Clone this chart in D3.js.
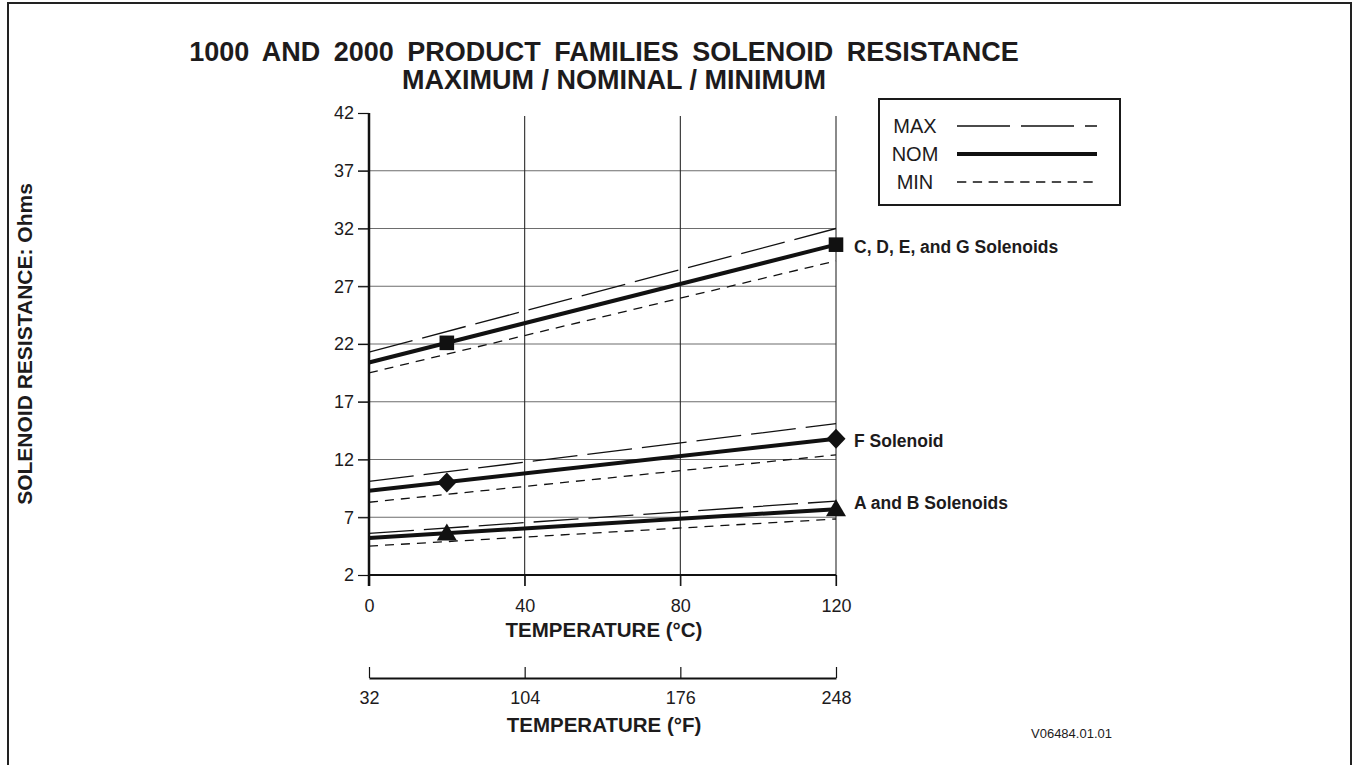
<!DOCTYPE html>
<html>
<head>
<meta charset="utf-8">
<title>Solenoid Resistance</title>
<style>
  body { margin: 0; background: #fff; }
  svg text { font-family: "Liberation Sans", Arial, Helvetica, sans-serif; fill: #1d1b1c; }
  .title { font-size: 27px; font-weight: bold; }
  .axis-title { font-size: 20.5px; font-weight: bold; }
  .fam-label { font-size: 17.5px; font-weight: bold; }
  .legend text { font-size: 20px; }
  .grid-h line { stroke: #6d6d6d; stroke-width: 1.2; }
  .grid-v line { stroke: #2a2a2a; stroke-width: 1.1; }
</style>
</head>
<body>
<script src="https://d3js.org/d3.v7.min.js"></script>
<script>
// temperatures (deg C) at which the straight lines start / end
const tempC = [0, 120];
const markerTemps = [20, 120];
const families = ["C, D, E, and G Solenoids", "F Solenoid", "A and B Solenoids"];
const markerShapes = ["square", "diamond", "triangle"];

// resistance in ohms at 0 C and 120 C
const maxVals = [[21.3, 32.0], [10.1, 15.1], [5.6, 8.4]];
const nomVals = [[20.4, 30.6], [9.3, 13.8], [5.2, 7.7]];
const minVals = [[19.5, 29.2], [8.3, 12.4], [4.5, 6.85]];
// nominal resistance at the marker temperatures
const markerVals = [[22.1, 30.6], [10.0, 13.8], [5.6, 7.7]];

const yTicks = [2, 7, 12, 17, 22, 27, 32, 37, 42];
const cTicks = [0, 40, 80, 120];
const fTicks = [32, 104, 176, 248];
const legendRows = ["MAX", "NOM", "MIN"];

const W = 1358, H = 765;
const svg = d3.select("body").append("svg").attr("width", W).attr("height", H);

// outer frame
svg.append("rect").attr("x", 8).attr("y", 3).attr("width", 1343).attr("height", 800)
  .attr("fill", "none").attr("stroke", "#222").attr("stroke-width", 2);

svg.append("text").attr("class", "title").attr("x", 604).attr("y", 61)
  .attr("text-anchor", "middle").style("word-spacing", "6px")
  .text("1000 AND 2000 PRODUCT FAMILIES SOLENOID RESISTANCE");
svg.append("text").attr("class", "title").attr("x", 614).attr("y", 89)
  .attr("text-anchor", "middle").text("MAXIMUM / NOMINAL / MINIMUM");

const x = d3.scaleLinear().domain([0, 120]).range([369, 836]);
const xf = d3.scaleLinear().domain([32, 248]).range([369, 836]);
const y = d3.scaleLinear().domain([2, 42]).range([575, 113]);

// horizontal grid (extends left as the tick)
svg.append("g").attr("class", "grid-h")
  .selectAll("line").data(yTicks.filter(d => d > 2 && d < 42)).join("line")
  .attr("x1", 358).attr("x2", x(120)).attr("y1", d => y(d)).attr("y2", d => y(d));

// vertical grid (extends down as the tick)
svg.append("g").attr("class", "grid-v")
  .selectAll("line").data(cTicks.filter(d => d > 0)).join("line")
  .attr("x1", d => x(d)).attr("x2", d => x(d)).attr("y1", y(42) + 3).attr("y2", 586);

// y axis
const gy = svg.append("g").attr("transform", `translate(${x(0)},0)`)
  .call(d3.axisLeft(y).tickValues(yTicks).tickSize(11).tickPadding(4));
gy.select(".domain").attr("stroke", "#111").attr("stroke-width", 2.5)
  .attr("d", `M0,${y(42)}V${y(2) + 11}`);
gy.selectAll(".tick line").attr("stroke", "#111").attr("stroke-width", 1.2);

// celsius axis
const gx = svg.append("g").attr("transform", `translate(0,${y(2)})`)
  .call(d3.axisBottom(x).tickValues(cTicks).tickSize(11).tickPadding(13));
gx.select(".domain").attr("stroke", "#111").attr("stroke-width", 2.2)
  .attr("d", `M${x(0)},0H${x(120)}`);
gx.selectAll(".tick line").attr("stroke", "#111").attr("stroke-width", 1.2);

svg.append("text").attr("class", "axis-title").attr("x", 604).attr("y", 637)
  .attr("text-anchor", "middle").text("TEMPERATURE (°C)");

// fahrenheit axis
const gf = svg.append("g").attr("transform", "translate(0,678)")
  .call(d3.axisBottom(xf).tickValues(fTicks).tickSizeInner(-11).tickSizeOuter(0));
gf.select(".domain").attr("stroke", "#111").attr("stroke-width", 2);
gf.selectAll(".tick line").attr("stroke", "#111").attr("stroke-width", 1.2);
gf.selectAll(".tick text").attr("dy", "0.71em").attr("y", 13);

svg.append("text").attr("class", "axis-title").attr("x", 604).attr("y", 732)
  .attr("text-anchor", "middle").text("TEMPERATURE (°F)");

svg.selectAll(".tick text").attr("fill", "#1d1b1c").style("font-size", "18px")
  .style("font-family", '"Liberation Sans", Arial, sans-serif');

svg.append("text").attr("class", "axis-title")
  .attr("transform", `translate(32,${(y(2) + y(42)) / 2}) rotate(-90)`)
  .attr("text-anchor", "middle").style("font-size", "21px")
  .text("SOLENOID RESISTANCE:  Ohms");

// lines
const line = d3.line().x((d, i) => x(tempC[i])).y(d => y(d));
const styles = [
  { vals: maxVals, width: 1.3, dash: "45,10" },
  { vals: minVals, width: 1.3, dash: "9,7" },
  { vals: nomVals, width: 4, dash: null }
];
styles.forEach(s => {
  svg.append("g").selectAll("path").data(s.vals).join("path")
    .attr("d", line).attr("fill", "none").attr("stroke", "#111")
    .attr("stroke-width", s.width).attr("stroke-dasharray", s.dash);
});

// markers
const shapes = {
  square: { draw(c) { const s = 7.3; c.moveTo(-s, -s); c.lineTo(s, -s); c.lineTo(s, s); c.lineTo(-s, s); c.closePath(); } },
  diamond: { draw(c) { c.moveTo(0, -10); c.lineTo(9.5, 0); c.lineTo(0, 10); c.lineTo(-9.5, 0); c.closePath(); } },
  triangle: { draw(c) { c.moveTo(0, -10); c.lineTo(10, 7); c.lineTo(-10, 7); c.closePath(); } }
};
markerVals.forEach((vals, k) => {
  svg.append("g").selectAll("path").data(vals).join("path")
    .attr("transform", (d, i) => `translate(${x(markerTemps[i])},${y(d)})`)
    .attr("d", d3.symbol().type(shapes[markerShapes[k]])())
    .attr("fill", "#111");
});

const labelDy = [2, 2, -6];
svg.append("g").selectAll("text").data(families).join("text")
  .attr("class", "fam-label")
  .attr("x", x(120) + 18)
  .attr("y", (d, i) => y(markerVals[i][1]) + labelDy[i])
  .attr("dy", "0.35em")
  .text(d => d);

// legend
const lg = svg.append("g").attr("class", "legend");
lg.append("rect").attr("x", 879).attr("y", 99).attr("width", 241).attr("height", 106)
  .attr("fill", "#fff").attr("stroke", "#1a1a1a").attr("stroke-width", 2);
const legY = d3.scalePoint().domain(legendRows).range([126, 182]);
const legStyle = { MAX: ["1.3", "53,11"], NOM: ["4", null], MIN: ["1.3", "9.3,6.5"] };
legendRows.forEach(r => {
  lg.append("text").attr("x", 915).attr("y", legY(r)).attr("dy", "0.36em")
    .attr("text-anchor", "middle").text(r);
  lg.append("line").attr("x1", 957).attr("x2", 1097).attr("y1", legY(r)).attr("y2", legY(r))
    .attr("stroke", "#111").attr("stroke-width", legStyle[r][0])
    .attr("stroke-dasharray", legStyle[r][1]);
});

svg.append("text").attr("x", 1031).attr("y", 738).style("font-size", "13px").text("V06484.01.01");
</script>
</body>
</html>
